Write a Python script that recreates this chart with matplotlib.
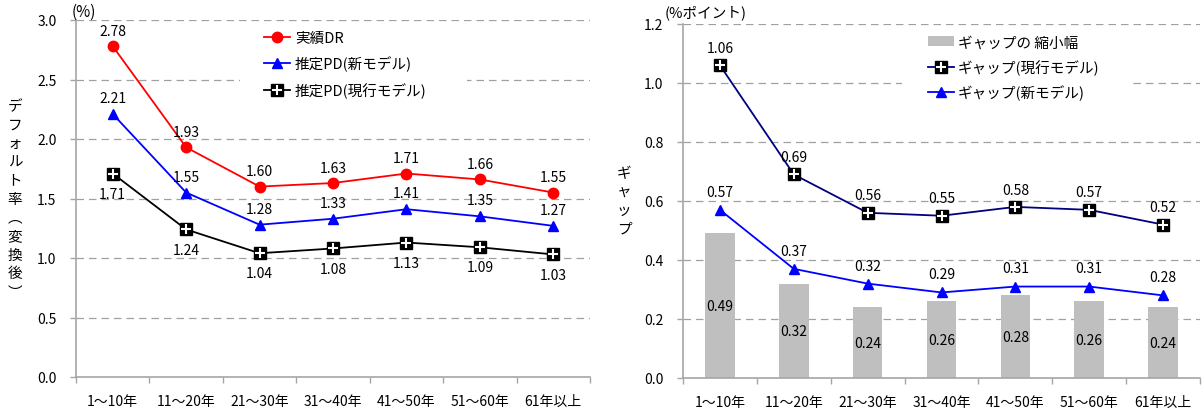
import matplotlib
matplotlib.use("Agg")
import matplotlib.pyplot as plt
from matplotlib.patches import Rectangle, Patch

plt.rcParams['font.family'] = ['Noto Sans CJK JP', 'DejaVu Sans']
plt.rcParams['font.size'] = 10

categories = ["1～10年", "11～20年", "21～30年", "31～40年", "41～50年", "51～60年", "61年以上"]

# left chart
actual_dr = [2.78, 1.93, 1.60, 1.63, 1.71, 1.66, 1.55]
pd_new = [2.21, 1.55, 1.28, 1.33, 1.41, 1.35, 1.27]
pd_current = [1.71, 1.24, 1.04, 1.08, 1.13, 1.09, 1.03]

# right chart
gap_current = [1.06, 0.69, 0.56, 0.55, 0.58, 0.57, 0.52]
gap_new = [0.57, 0.37, 0.32, 0.29, 0.31, 0.31, 0.28]
gap_reduction = [0.49, 0.32, 0.24, 0.26, 0.28, 0.26, 0.24]

left_yticks = [0.0, 0.5, 1.0, 1.5, 2.0, 2.5, 3.0]
right_yticks = [0.0, 0.2, 0.4, 0.6, 0.8, 1.0, 1.2]

W, H = 1203, 414
fig = plt.figure(figsize=(W / 100, H / 100), dpi=100)

def px_axes(x0, x1, ytop, ybot):
    return fig.add_axes([x0 / W, 1 - ybot / H, (x1 - x0) / W, (ybot - ytop) / H])

axL = px_axes(76, 590, 21, 378)
axR = px_axes(683, 1200, 25, 379)

GRID = '#a0a0a0'
SPINE = '#a6a6a6'
x = list(range(len(categories)))

def style(ax, yticks):
    ax.set_axisbelow(True)
    ax.set_xlim(-0.5, len(categories) - 0.5)
    ax.set_ylim(yticks[0], yticks[-1])
    ax.set_yticks(yticks)
    ax.set_yticklabels([f"{t:.1f}" for t in yticks])
    ax.set_xticks(x)
    ax.set_xticklabels(categories)
    ax.set_xticks([i - 0.5 for i in range(len(categories) + 1)], minor=True)
    ax.tick_params(axis='x', which='major', length=0, pad=12, labelsize=10)
    ax.tick_params(axis='x', which='minor', length=4, color=SPINE, width=1)
    ax.tick_params(axis='y', length=4, color=SPINE, width=1, pad=10, labelsize=10)
    for s in ['top', 'right']:
        ax.spines[s].set_visible(False)
    for s in ['left', 'bottom']:
        ax.spines[s].set_color(SPINE)
        ax.spines[s].set_linewidth(1.2)
    ax.yaxis.grid(True, color=GRID, linestyle=(0, (6, 4)), linewidth=0.9)
    ax.yaxis.get_gridlines()[0].set_visible(False)

style(axL, left_yticks)
style(axR, right_yticks)

# ---- left chart ----
axL.add_patch(Rectangle((1.73, 2.34), 3.1, 0.62, facecolor='white', edgecolor='none', zorder=1))
l1, = axL.plot(x, actual_dr, color='#ff0000', lw=1.3, marker='o', ms=7.5, zorder=3)
l2, = axL.plot(x, pd_new, color='#0000ff', lw=1.3, marker='^', ms=7.5, zorder=3)
l3, = axL.plot(x, pd_current, color='black', lw=1.3, marker='s', ms=8.5, zorder=3)
l3p, = axL.plot(x, pd_current, ls='none', marker='+', color='white', ms=6.5, mew=1.5, zorder=4)

for xi, v in zip(x, actual_dr):
    axL.annotate(f"{v:.2f}", (xi, v), xytext=(0, 11), textcoords='offset points', ha='center', va='center', fontsize=10)
for xi, v in zip(x, pd_new):
    axL.annotate(f"{v:.2f}", (xi, v), xytext=(0, 11.5), textcoords='offset points', ha='center', va='center', fontsize=10)
for xi, v in zip(x, pd_current):
    axL.annotate(f"{v:.2f}", (xi, v), xytext=(0, -14.5), textcoords='offset points', ha='center', va='center', fontsize=10)

legL = axL.legend([l1, l2, (l3, l3p)], ["実績DR", "推定PD(新モデル)", "推定PD(現行モデル)"],
                  loc='upper left', bbox_to_anchor=(0.365, 0.968), frameon=False, numpoints=1,
                  handlelength=1.8, handletextpad=0.35, labelspacing=0.72, borderpad=0, borderaxespad=0,
                  fontsize=10.5)

fig.text(15 / W, 1 - 200 / H, "\n".join("デフォルト率︵変換後︶"), ha='center', va='center',
         fontsize=10.5, linespacing=1.42)
fig.text(84 / W, 1 - 12 / H, "(%)", ha='center', va='center', fontsize=11)

# ---- right chart ----
axR.add_patch(Rectangle((2.47, 0.94), 3.12, 0.245, facecolor='white', edgecolor='none', zorder=1))
bars = axR.bar(x, gap_reduction, width=0.4, color='#bfbfbf', zorder=2)
r1, = axR.plot(x, gap_current, color='#000080', lw=1.3, marker='s', ms=8.5, mfc='black', mec='black', zorder=3)
r1p, = axR.plot(x, gap_current, ls='none', marker='+', color='white', ms=6.5, mew=1.5, zorder=4)
r2, = axR.plot(x, gap_new, color='#0000ff', lw=1.3, marker='^', ms=7.5, zorder=3)

for xi, v in zip(x, gap_current):
    axR.annotate(f"{v:.2f}", (xi, v), xytext=(0, 12.5), textcoords='offset points', ha='center', va='center', fontsize=10, zorder=5)
for xi, v in zip(x, gap_new):
    axR.annotate(f"{v:.2f}", (xi, v), xytext=(0, 13), textcoords='offset points', ha='center', va='center', fontsize=10, zorder=5)
for xi, v in zip(x, gap_reduction):
    axR.text(xi, v / 2, f"{v:.2f}", ha='center', va='center', fontsize=10, zorder=5)

legR = axR.legend([Patch(facecolor='#bfbfbf'), (r1, r1p), r2],
                  ["ギャップの 縮小幅", "ギャップ(現行モデル)", "ギャップ(新モデル)"],
                  loc='upper left', bbox_to_anchor=(0.473, 0.968), frameon=False, numpoints=1,
                  handlelength=1.8, handletextpad=0.3, labelspacing=0.68, borderpad=0, borderaxespad=0,
                  fontsize=10.5)

fig.text(624 / W, 1 - 202 / H, "\n".join("ギャップ"), ha='center', va='center',
         fontsize=10.5, linespacing=1.42)
fig.text(706 / W, 1 - 13 / H, "(%ポイント)", ha='center', va='center', fontsize=10.5)

fig.savefig("out.png", dpi=100)
